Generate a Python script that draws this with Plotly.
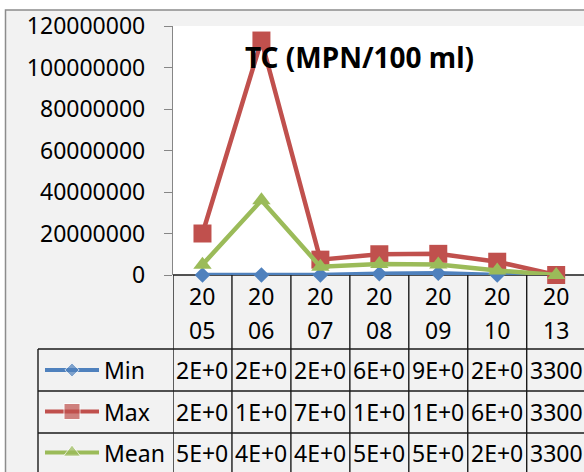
import plotly.graph_objects as go

# ---------------- data ----------------
categories = ["2005", "2006", "2007", "2008", "2009", "2010", "2013"]
min_vals = [2.0e4, 2.0e4, 2.0e4, 6.0e5, 9.0e5, 2.0e4, 3300]
max_vals = [2.0e7, 1.13e8, 7.4e6, 1.0e7, 1.02e7, 6.4e6, 3300]
mean_vals = [5.0e6, 3.6e7, 4.0e6, 5.3e6, 5.1e6, 2.2e6, 3300]
series_names = ["Min", "Max", "Mean"]
y_ticks = [0, 20000000, 40000000, 60000000, 80000000, 100000000, 120000000]
title_text = "TC (MPN/100 ml)"

# ---------------- style ----------------
colors = ["#4F81BD", "#C0504D", "#9BBB59"]
symbols = ["diamond", "square", "triangle-up"]
msizes = [12, 18, 16]
key_sizes = [11, 16, 15]
FONT = "Noto Sans"
W, H = 584, 472
PLOT_L, PLOT_T, PLOT_B = 173, 26, 275
COL_W = 58.95
x_max = (W - PLOT_L) / COL_W - 0.5
row_y = [370, 411.5, 452.5]
row_lines = [349, 391, 433]
TABLE_L = 38


def fx(x):
    return x / W


def fy(y):
    return 1 - y / H


def cell_label(v):
    s = str(int(round(v)))
    return s if len(s) <= 4 else f"{v:.0E}"[:4]


series_vals = [min_vals, max_vals, mean_vals]
xs = list(range(len(categories)))

fig = go.Figure()
for name, vals, c, sym, ms in zip(series_names, series_vals, colors, symbols, msizes):
    fig.add_trace(go.Scatter(
        x=xs, y=vals, name=name, mode="lines+markers",
        line=dict(color=c, width=4.5),
        marker=dict(symbol=sym, size=ms, color=c),
        cliponaxis=False, xaxis="x", yaxis="y",
    ))

# legend keys inside the data table (pixel-space overlay axes)
for i, (c, sym, ms) in enumerate(zip(colors, symbols, key_sizes)):
    fig.add_trace(go.Scatter(
        x=[45, 72, 99], y=[row_y[i]] * 3, mode="lines+markers",
        line=dict(color=c, width=4),
        marker=dict(symbol=sym, size=[0, ms, 0], color=c),
        cliponaxis=False, xaxis="x2", yaxis="y2", hoverinfo="skip",
    ))

shapes = []
shapes.append(dict(type="rect", xref="paper", yref="paper", layer="below",
                   x0=fx(5.5), x1=fx(W + 20), y0=fy(H + 20), y1=fy(10),
                   fillcolor="#F2F2F2", line=dict(color="#8C8C8C", width=1.5)))
shapes.append(dict(type="rect", xref="paper", yref="paper", layer="below",
                   x0=fx(PLOT_L), x1=fx(W + 5), y0=fy(PLOT_B), y1=fy(PLOT_T),
                   fillcolor="white", line=dict(width=0)))
grid = dict(color="#1A1A1A", width=1.4)
shapes.append(dict(type="line", xref="paper", yref="paper", layer="below",
                   x0=fx(PLOT_L), x1=fx(W + 5), y0=fy(PLOT_B), y1=fy(PLOT_B), line=grid))
for ly in row_lines:
    shapes.append(dict(type="line", xref="paper", yref="paper", layer="below",
                       x0=fx(TABLE_L), x1=fx(W + 5), y0=fy(ly), y1=fy(ly), line=grid))
shapes.append(dict(type="line", xref="paper", yref="paper", layer="below",
                   x0=fx(TABLE_L), x1=fx(TABLE_L), y0=fy(row_lines[0]), y1=fy(H + 5), line=grid))
for k in range(len(categories) + 1):
    shapes.append(dict(type="line", xref="x", yref="paper", layer="below",
                       x0=k - 0.5, x1=k - 0.5, y0=fy(PLOT_B), y1=fy(H + 5), line=grid))

annotations = []
annotations.append(dict(text="<b>" + title_text + "</b>", xref="paper", yref="paper",
                        x=fx(359), y=fy(57), showarrow=False, xanchor="center", yanchor="middle",
                        font=dict(family=FONT, size=28, color="black")))
for i, cat in enumerate(categories):
    annotations.append(dict(text=cat[:2], xref="x", yref="paper", x=i, y=fy(296),
                            showarrow=False, xanchor="center", yanchor="middle",
                            font=dict(family=FONT, size=23, color="black")))
    annotations.append(dict(text=cat[2:], xref="x", yref="paper", x=i, y=fy(330),
                            showarrow=False, xanchor="center", yanchor="middle",
                            font=dict(family=FONT, size=23, color="black")))
for r, (name, vals) in enumerate(zip(series_names, series_vals)):
    annotations.append(dict(text=name, xref="paper", yref="paper", x=fx(102), y=fy(row_y[r]),
                            showarrow=False, xanchor="left", yanchor="middle",
                            font=dict(family=FONT, size=23, color="black")))
    for i, v in enumerate(vals):
        annotations.append(dict(text=cell_label(v), xref="x", yref="paper", x=i, y=fy(row_y[r]),
                                showarrow=False, xanchor="center", yanchor="middle",
                                font=dict(family=FONT, size=23, color="black")))

fig.update_layout(
    template="none",
    width=W, height=H,
    margin=dict(l=0, r=0, t=0, b=0, pad=0, autoexpand=False),
    paper_bgcolor="white", plot_bgcolor="rgba(0,0,0,0)",
    showlegend=False,
    shapes=shapes, annotations=annotations,
    xaxis=dict(domain=[fx(PLOT_L), 1], range=[-0.5, x_max], showticklabels=False,
               showgrid=False, zeroline=False, showline=False, ticks="", anchor="y",
               automargin=False),
    yaxis=dict(domain=[fy(PLOT_B), fy(PLOT_T)], range=[0, 120000000],
               tickvals=y_ticks, ticktext=[str(v) for v in y_ticks],
               ticks="outside", ticklen=8, tickcolor="#868686", tickwidth=1.3,
               showline=True, linecolor="#868686", linewidth=1.3,
               showgrid=False, zeroline=False, ticklabelstandoff=14, automargin=False,
               tickfont=dict(family=FONT, size=23, color="black"), anchor="x"),
    xaxis2=dict(domain=[0, 1], range=[0, W], visible=False, anchor="y2", automargin=False),
    yaxis2=dict(domain=[0, 1], range=[H, 0], visible=False, anchor="x2", automargin=False),
)

fig.write_html("out.html", config={"displayModeBar": False},
               post_script="document.body.style.margin='0px';")
